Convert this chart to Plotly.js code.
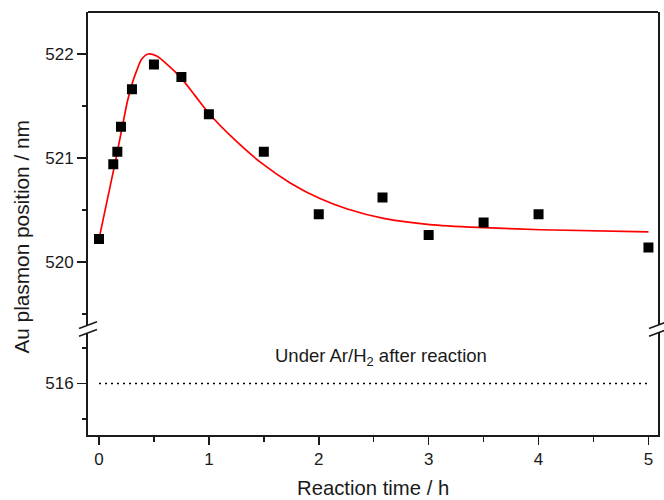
<!DOCTYPE html>
<html>
<head>
<meta charset="utf-8">
<script src="https://cdn.plot.ly/plotly-3.0.1.min.js"></script>
<style>
html, body { margin: 0; padding: 0; background: #ffffff; }
#chart { width: 664px; height: 500px; }
</style>
</head>
<body>
<div id="chart"></div>
<script>
// Measured data (reaction time in h, Au plasmon position in nm)
const timeH = [0, 0.13, 0.167, 0.2, 0.3, 0.5, 0.75, 1.0, 1.5, 2.0, 2.58, 3.0, 3.5, 4.0, 5.0];
const position = [520.22, 520.94, 521.06, 521.30, 521.66, 521.90, 521.78, 521.42, 521.06, 520.46, 520.62, 520.26, 520.38, 520.46, 520.14];

// Fitted curve
const fitT = [0, 0.05, 0.1, 0.15, 0.182, 0.212, 0.26, 0.30, 0.343, 0.388, 0.449, 0.525, 0.63, 0.746, 0.874, 1.0, 1.22, 1.48, 1.74, 2.01, 2.26, 2.59, 3.01, 3.51, 4.02, 5.0];
const fitV = [520.22, 520.47, 520.72, 520.97, 521.14, 521.30, 521.55, 521.71, 521.84, 521.95, 522.0, 521.98, 521.89, 521.77, 521.60, 521.43, 521.19, 520.95, 520.76, 520.61, 520.51, 520.42, 520.36, 520.33, 520.31, 520.29];

// Reference level under Ar/H2 after reaction
const refT = [0, 5];
const refV = [516, 516];

// Tick positions
const xTicks = [0, 1, 2, 3, 4, 5];
const xMinorTicks = [0.5, 1.5, 2.5, 3.5, 4.5];
const upperTicks = [520, 521, 522];
const upperMinorTicks = [519.5, 520.5, 521.5];
const lowerTicks = [516];
const lowerMinorTicks = [515.5, 516.5];

const FONT = 'Liberation Sans, Arial, Helvetica, sans-serif';
const INK = '#1a1a1a';

const traces = [
  {
    x: fitT, y: fitV, xaxis: 'x', yaxis: 'y',
    type: 'scatter', mode: 'lines',
    line: { color: '#ff0000', width: 1.7, shape: 'spline', smoothing: 0.8 },
    hoverinfo: 'skip'
  },
  {
    x: timeH, y: position, xaxis: 'x', yaxis: 'y',
    type: 'scatter', mode: 'markers',
    marker: { symbol: 'square', size: 10, color: '#000000' }
  },
  {
    x: refT, y: refV, xaxis: 'x', yaxis: 'y2',
    type: 'scatter', mode: 'lines',
    line: { color: '#000000', width: 1.3, dash: '2px,4px' }
  }
];

const axisCommon = {
  showline: true, linewidth: 2, linecolor: INK,
  showgrid: false, zeroline: false,
  ticks: 'outside', tickwidth: 1.5, tickcolor: INK,
  tickfont: { family: FONT, size: 17, color: INK }
};

function minorTicks(vals, len) {
  return { tickmode: 'array', tickvals: vals, ticks: 'outside', ticklen: len,
           tickwidth: 1.5, tickcolor: INK, showgrid: false };
}

// break marks helper (pixel-sized around an anchor)
function breakMarks(xAnchor, yAnchor) {
  const s = { type: 'line', xref: 'paper', yref: 'paper',
    xsizemode: 'pixel', ysizemode: 'pixel',
    xanchor: xAnchor, yanchor: yAnchor,
    line: { color: INK, width: 1.6 } };
  return [
    Object.assign({}, s, { x0: -9, x1: 9, y0: 0.6, y1: 7.2 }),
    Object.assign({}, s, { x0: -9, x1: 9, y0: -7.2, y1: -0.6 })
  ];
}

const breakY = 0.2506;

const layout = {
  width: 664, height: 500,
  margin: { l: 88, r: 6, t: 12, b: 65, pad: 0 },
  paper_bgcolor: '#ffffff', plot_bgcolor: '#ffffff',
  showlegend: false,
  font: { family: FONT, color: INK },
  xaxis: Object.assign({}, axisCommon, {
    anchor: 'y2', domain: [0, 1],
    range: [-0.1, 5.087],
    tickmode: 'array', tickvals: xTicks,
    ticklen: 8,
    minor: minorTicks(xMinorTicks, 5)
  }),
  yaxis: Object.assign({}, axisCommon, {
    anchor: 'x', domain: [0.2596, 1],
    range: [519.392, 522.404],
    tickmode: 'array', tickvals: upperTicks,
    ticklen: 9, mirror: true,
    minor: minorTicks(upperMinorTicks, 4)
  }),
  yaxis2: Object.assign({}, axisCommon, {
    anchor: 'x', domain: [0, 0.2416],
    range: [515.275, 516.714],
    tickmode: 'array', tickvals: lowerTicks,
    ticklen: 9, mirror: true,
    minor: minorTicks(lowerMinorTicks, 4)
  }),
  shapes: [
    { type: 'line', xref: 'paper', yref: 'paper', x0: 0, x1: 1, y0: 1, y1: 1,
      line: { color: INK, width: 2 } }
  ].concat(breakMarks(0, breakY)).concat(breakMarks(1, breakY)),
  annotations: [
    {
      text: 'Under Ar/H<sub>2</sub> after reaction',
      xref: 'x', yref: 'y2', x: 2.566, y: 516.37,
      xanchor: 'center', yanchor: 'middle', showarrow: false,
      font: { family: FONT, size: 18.5, color: INK }
    },
    {
      text: 'Reaction time / h',
      xref: 'paper', yref: 'paper', x: 0.5, y: -0.125,
      xanchor: 'center', yanchor: 'middle', showarrow: false,
      font: { family: FONT, size: 20.3, color: INK }
    },
    {
      text: 'Au plasmon position / nm',
      xref: 'paper', yref: 'paper', x: -0.1158, y: 0.469,
      xanchor: 'center', yanchor: 'middle', showarrow: false, textangle: -90,
      font: { family: FONT, size: 20.8, color: INK }
    }
  ]
};

Plotly.newPlot('chart', traces, layout, { displayModeBar: false, staticPlot: true });
</script>
</body>
</html>
